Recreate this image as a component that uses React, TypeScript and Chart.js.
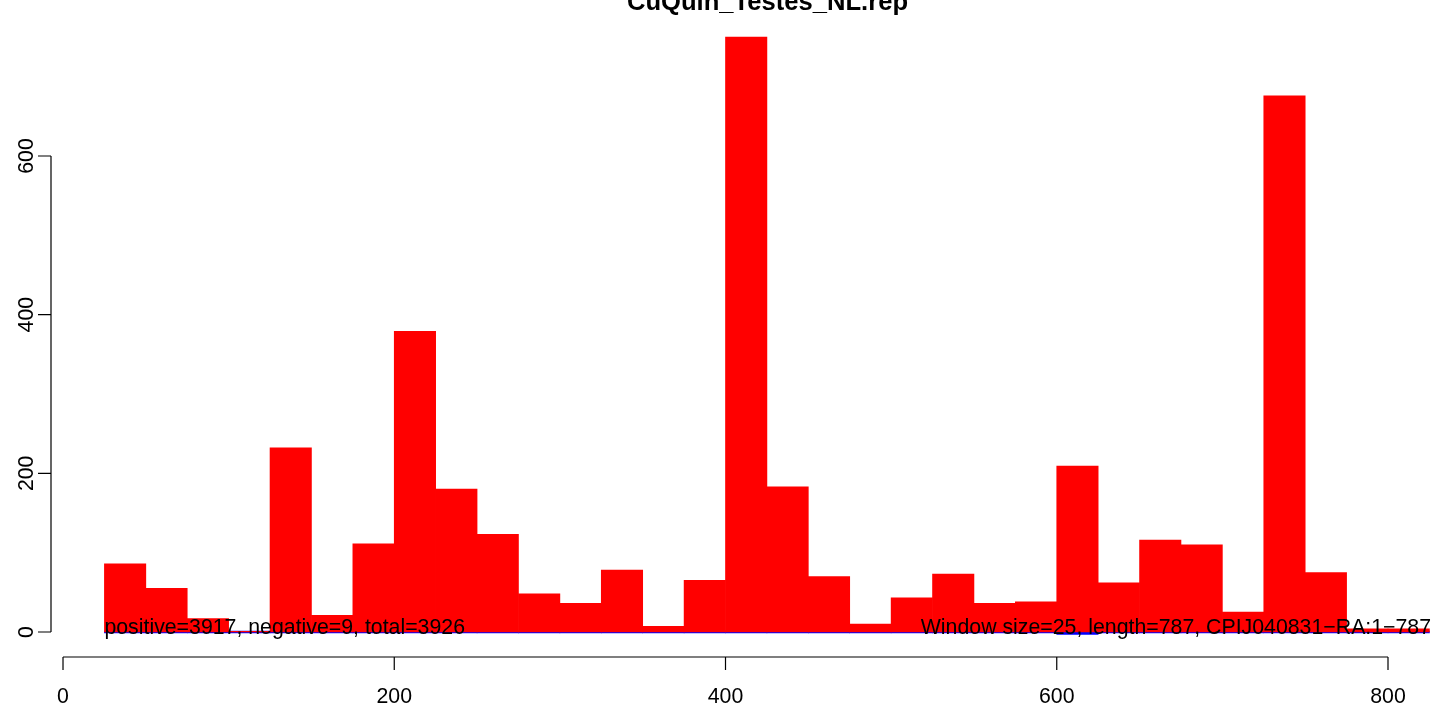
import React, { useEffect, useRef } from "react";
import { Chart, registerables } from "chart.js";

Chart.register(...registerables);

// ---- data ----
const windowStarts = [
  25, 50, 75, 100, 125, 150, 175, 200, 225, 250, 275, 300, 325, 350, 375, 400,
  425, 450, 475, 500, 525, 550, 575, 600, 625, 650, 675, 700, 725, 750, 775, 800,
];
const positiveCounts = [
  86, 55, 17, 1, 232, 21, 111, 379, 180, 123, 48, 36, 78, 7, 65, 750,
  183, 70, 10, 43, 73, 36, 38, 209, 62, 116, 110, 25, 676, 75, 4, 4,
];
const negativeCounts = [
  0, 0, 0, 0, 0, 0, 0, 0, 0, 0, 0, 0, 0, 0, 0, 0,
  0, 0, 0, 0, 0, 0, 0, -3, 0, 0, 0, 0, 0, 0, 0, 0,
];
const windowSize = 25;
const xTicks = [0, 200, 400, 600, 800];
const yTicks = [0, 200, 400, 600];
const titleText = "CuQuin_Testes_NL.rep";
const leftNote = "positive=3917, negative=9, total=3926";
const rightNote = "Window size=25, length=787, CPIJ040831\u2212RA:1\u2212787";
const leftNoteX = 25;
const rightNoteX = 826;

const FONT = '"Liberation Sans", Arial, Helvetica, sans-serif';

const rStylePlugin = {
  id: "rStyle",
  afterDraw(chart: any) {
    const ctx = chart.ctx as CanvasRenderingContext2D;
    const xs = chart.scales.x;
    const ys = chart.scales.y;
    const area = chart.chartArea;
    ctx.save();
    ctx.strokeStyle = "#000";
    ctx.fillStyle = "#000";
    ctx.lineWidth = 1.2;

    // x axis
    const axY = area.bottom + 1.2;
    ctx.beginPath();
    ctx.moveTo(xs.getPixelForValue(xTicks[0]), axY);
    ctx.lineTo(xs.getPixelForValue(xTicks[xTicks.length - 1]), axY);
    for (const t of xTicks) {
      const px = xs.getPixelForValue(t);
      ctx.moveTo(px, axY);
      ctx.lineTo(px, axY + 13);
    }
    ctx.stroke();
    ctx.font = `21.3px ${FONT}`;
    ctx.textAlign = "center";
    ctx.textBaseline = "alphabetic";
    for (const t of xTicks) {
      ctx.fillText(String(t), xs.getPixelForValue(t), axY + 46);
    }

    // y axis
    const axX = area.left;
    ctx.beginPath();
    ctx.moveTo(axX, ys.getPixelForValue(yTicks[0]));
    ctx.lineTo(axX, ys.getPixelForValue(yTicks[yTicks.length - 1]));
    for (const t of yTicks) {
      const py = ys.getPixelForValue(t);
      ctx.moveTo(axX, py);
      ctx.lineTo(axX - 13, py);
    }
    ctx.stroke();
    for (const t of yTicks) {
      const py = ys.getPixelForValue(t);
      ctx.save();
      ctx.translate(axX - 18.5, py);
      ctx.rotate(-Math.PI / 2);
      ctx.textAlign = "center";
      ctx.textBaseline = "alphabetic";
      ctx.fillText(String(t), 0, 0);
      ctx.restore();
    }

    // annotations
    const y0 = ys.getPixelForValue(0);
    ctx.textBaseline = "alphabetic";
    ctx.textAlign = "left";
    ctx.fillText(leftNote, xs.getPixelForValue(leftNoteX), y0 + 2);
    ctx.textAlign = "right";
    ctx.fillText(rightNote, xs.getPixelForValue(rightNoteX), y0 + 2);

    // title
    ctx.font = `bold 25.6px ${FONT}`;
    ctx.textAlign = "center";
    ctx.fillText(titleText, 767.5, 10);
    ctx.restore();
  },
};

export default function App() {
  const canvasRef = useRef<HTMLCanvasElement | null>(null);

  useEffect(() => {
    const canvas = canvasRef.current;
    if (!canvas) return;
    const half = windowSize / 2;
    const chart = new Chart(canvas, {
      type: "bar",
      data: {
        datasets: [
          {
            label: "positive",
            data: windowStarts.map((s, i) => ({ x: s + half, y: positiveCounts[i] })),
            backgroundColor: "#ff0000",
            borderWidth: 0,
            grouped: false,
            barPercentage: 1,
            categoryPercentage: 1,
          } as any,
          {
            label: "negative",
            data: windowStarts.map((s, i) => ({ x: s + half, y: negativeCounts[i] })),
            backgroundColor: "#0000ff",
            borderWidth: 0,
            grouped: false,
            barPercentage: 1,
            categoryPercentage: 1,
            minBarLength: 2,
          } as any,
        ],
      },
      options: {
        animation: false,
        responsive: false,
        devicePixelRatio: 1,
        layout: { padding: { left: 51, right: 3, top: 13.2, bottom: 48.2 } },
        plugins: {
          legend: { display: false },
          title: { display: false },
          tooltip: { enabled: false },
        },
        scales: {
          x: { type: "linear", min: -7.25, max: 832, display: false, offset: false },
          y: { type: "linear", min: -30, max: 780, display: false },
        },
      },
      plugins: [rStylePlugin],
    });
    return () => chart.destroy();
  }, []);

  return (
    <div
      style={{
        position: "fixed",
        left: 0,
        top: 0,
        width: 1444,
        height: 704,
        background: "#fff",
        overflow: "hidden",
      }}
    >
      <canvas ref={canvasRef} width={1444} height={704} style={{ display: "block" }} />
    </div>
  );
}
